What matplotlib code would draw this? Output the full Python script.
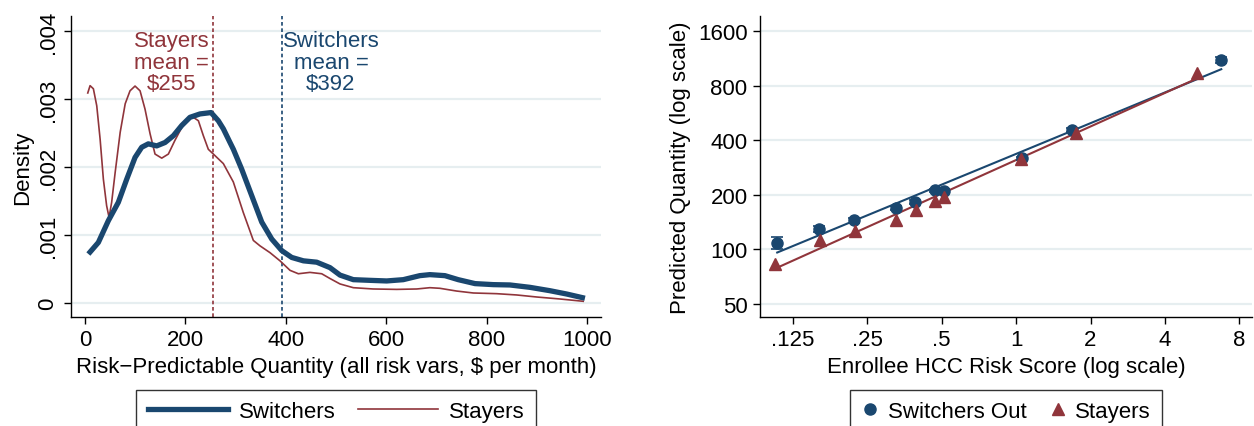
import numpy as np
import matplotlib
matplotlib.use("Agg")
import matplotlib.pyplot as plt
from matplotlib.lines import Line2D

plt.rcParams['font.family'] = ['Liberation Sans', 'DejaVu Sans']

NAVY = '#1a476f'
MAROON = '#90353b'
GRID = '#e6eef0'

# ---------------- Left panel data: kernel densities ----------------
sw_x = [6.6, 26.5, 46.4, 66.3, 83, 99.6, 112.9, 126, 142.8, 159.4, 176, 192.6,
        209, 229, 251, 265.5, 275.6, 288.8, 295.5, 312, 332, 352, 372, 392,
        411.7, 435, 461.6, 488, 508, 534.5, 567.7, 601, 634, 667, 687, 717,
        743.6, 777, 813.4, 846.6, 886.5, 926, 959.6, 996]
sw_y = [0.00072, 0.00089, 0.00121, 0.00148, 0.00182, 0.00214, 0.00229, 0.00234,
        0.00231, 0.00236, 0.00246, 0.00261, 0.00273, 0.00278, 0.00280, 0.00268,
        0.00256, 0.00236, 0.00226, 0.00197, 0.00158, 0.00119, 0.00094, 0.00077,
        0.00067, 0.00062, 0.00060, 0.00052, 0.00041, 0.000343, 0.000333,
        0.000324, 0.000343, 0.000402, 0.000417, 0.000402, 0.000343, 0.000285,
        0.000270, 0.000265, 0.000230, 0.000181, 0.000132, 0.00007]

st_x = [5.4, 10, 16.6, 23.3, 30, 36.5, 43, 47.8, 53, 60, 70, 80, 89.6, 99.6,
        109.6, 119.5, 129.5, 139.4, 152.8, 166, 179, 192.6, 205.8, 215.8, 225.8,
        235.7, 245.6, 255.6, 275.5, 295.4, 315.3, 335.3, 348.6, 368.5, 388.4,
        408.4, 425, 448, 471.5, 488, 508, 534.5, 574, 621, 661, 687, 707, 740,
        773.6, 820, 860, 900, 946, 992.6]
st_y = [0.003088, 0.003196, 0.00315, 0.0029, 0.00241, 0.00182, 0.00143, 0.00126,
        0.00148, 0.00192, 0.00251, 0.00293, 0.00312, 0.00319, 0.00312, 0.00285,
        0.00249, 0.00219, 0.00213, 0.00219, 0.00239, 0.00258, 0.00271, 0.00273,
        0.00268, 0.00246, 0.00226, 0.00219, 0.00205, 0.00178, 0.00133, 0.00092,
        0.00084, 0.00074, 0.00062, 0.00048, 0.00043, 0.00045, 0.00043, 0.00036,
        0.00028, 0.000225, 0.000206, 0.000200, 0.000206, 0.000225, 0.000216,
        0.000176, 0.000147, 0.000137, 0.000118, 0.000088, 0.000059, 0.000025]

stayers_mean = 255
switchers_mean = 392

dens_xticks = [0, 200, 400, 600, 800, 1000]
dens_yticks = [0, 0.001, 0.002, 0.003, 0.004]
dens_ylabels = ['0', '.001', '.002', '.003', '.004']

# ---------------- Right panel data: binned scatter ----------------
sw_risk = [0.108, 0.159, 0.220, 0.328, 0.390, 0.468, 0.510, 1.056, 1.68, 6.76]
sw_pred = [109, 130, 145, 169, 183, 212, 211, 319, 456, 1106]
sw_err = [8, 5, 5, 4, 4, 4, 4, 6, 10, 40]

st_risk = [0.106, 0.161, 0.222, 0.326, 0.392, 0.468, 0.513, 1.045, 1.74, 5.40]
st_pred = [82.7, 112.5, 126, 145, 166, 184, 195, 316, 441, 942]

risk_ticks = [0.125, 0.25, 0.5, 1, 2, 4, 8]
risk_labels = ['.125', '.25', '.5', '1', '2', '4', '8']
pred_ticks = [50, 100, 200, 400, 800, 1600]
pred_labels = ['50', '100', '200', '400', '800', '1600']

FS = 16

fig = plt.figure(figsize=(12.54, 4.27), dpi=100)
W, H = 1254, 427

def px_axes(l, t, r, b):
    return fig.add_axes([l / W, 1 - b / H, (r - l) / W, (b - t) / H])

def style(ax):
    for s in ['top', 'right']:
        ax.spines[s].set_visible(False)
    for s in ['left', 'bottom']:
        ax.spines[s].set_linewidth(1.0)
        ax.spines[s].set_color('black')
    ax.tick_params(axis='both', direction='out', length=5, width=1.0,
                   labelsize=FS, colors='black', pad=4)
    ax.set_axisbelow(True)

# ---------------- Left panel ----------------
ax1 = px_axes(71, 17, 601, 318)
style(ax1)
ax1.set_xlim(-28, 1028)
ax1.set_ylim(-0.000206, 0.00422)
ax1.set_xticks(dens_xticks)
ax1.set_yticks(dens_yticks)
ax1.set_yticklabels(dens_ylabels, rotation=90, va='center')
ax1.yaxis.grid(True, color=GRID, linewidth=1.6)
ax1.xaxis.grid(False)

ax1.plot(st_x, st_y, color=MAROON, linewidth=1.2, zorder=3)
ax1.plot(sw_x, sw_y, color=NAVY, linewidth=3.8, zorder=4,
         solid_capstyle='butt', solid_joinstyle='round')
ax1.axvline(stayers_mean, color=MAROON, linestyle=(0, (2.2, 1.6)), linewidth=1.2, zorder=2)
ax1.axvline(switchers_mean, color=NAVY, linestyle=(0, (2.2, 1.6)), linewidth=1.2, zorder=2)

ax1.text(173, 0.00401, 'Stayers\nmean =\n$255', color=MAROON, fontsize=FS,
         ha='center', va='top', linespacing=1.03)
ax1.text(490, 0.00401, 'Switchers\nmean =\n$392', color=NAVY, fontsize=FS,
         ha='center', va='top', linespacing=1.03)

ax1.set_xlabel('Risk\u2212Predictable Quantity (all risk vars, $ per month)',
               fontsize=FS, labelpad=4)
ax1.set_ylabel('Density', fontsize=FS, labelpad=3)

leg1_handles = [Line2D([], [], color=NAVY, linewidth=3.8),
                Line2D([], [], color=MAROON, linewidth=1.2)]
leg1 = fig.legend(leg1_handles, ['Switchers', 'Stayers'], ncol=2,
                  loc='upper center', bbox_to_anchor=(336 / W, 1 - 391 / H),
                  borderaxespad=0.0,
                  fontsize=FS, frameon=True, fancybox=False, edgecolor='black',
                  handlelength=3.6, columnspacing=1.0, borderpad=0.5,
                  handletextpad=0.5)
leg1.get_frame().set_linewidth(1.0)

# ---------------- Right panel ----------------
ax2 = px_axes(760, 17, 1252, 318)
style(ax2)
ax2.set_xscale('log', base=2)
ax2.set_yscale('log', base=2)
ax2.set_xlim(0.092, 9.0)
ax2.set_ylim(42.4, 1938)
ax2.set_xticks(risk_ticks)
ax2.set_xticklabels(risk_labels)
ax2.set_yticks(pred_ticks)
ax2.set_yticklabels(pred_labels)
ax2.minorticks_off()
ax2.yaxis.grid(True, color=GRID, linewidth=1.6)
ax2.xaxis.grid(False)

# fitted lines (OLS in log-log space)
for rx, py, col in [(sw_risk, sw_pred, NAVY), (st_risk, st_pred, MAROON)]:
    lx = np.log2(rx)
    ly = np.log2(py)
    b, a = np.polyfit(lx, ly, 1)
    xs = np.linspace(lx.min(), lx.max(), 50)
    ax2.plot(2 ** xs, 2 ** (a + b * xs), color=col, linewidth=1.5, zorder=3)

ax2.errorbar(sw_risk, sw_pred, yerr=sw_err, fmt='none', ecolor=NAVY,
             elinewidth=1.2, capsize=4, capthick=1.2, zorder=4)
ax2.plot(sw_risk, sw_pred, 'o', color=NAVY, markersize=8, zorder=5)
ax2.plot(st_risk, st_pred, '^', color=MAROON, markersize=9, zorder=5)

ax2.set_xlabel('Enrollee HCC Risk Score (log scale)', fontsize=FS, labelpad=4)
ax2.set_ylabel('Predicted Quantity (log scale)', fontsize=FS, labelpad=5)

leg2_handles = [Line2D([], [], color=NAVY, marker='o', linestyle='none', markersize=8),
                Line2D([], [], color=MAROON, marker='^', linestyle='none', markersize=9)]
leg2 = fig.legend(leg2_handles, ['Switchers Out', 'Stayers'], ncol=2,
                  loc='upper center', bbox_to_anchor=(1006 / W, 1 - 391 / H),
                  borderaxespad=0.0,
                  fontsize=FS, frameon=True, fancybox=False, edgecolor='black',
                  handlelength=0.8, columnspacing=1.0, borderpad=0.5,
                  handletextpad=0.4)
leg2.get_frame().set_linewidth(1.0)

fig.savefig('out.png', dpi=100, facecolor='white')
